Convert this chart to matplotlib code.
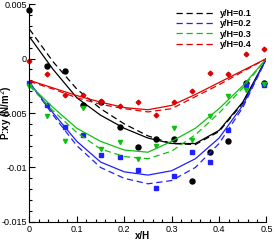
import numpy as np
import matplotlib.pyplot as plt

# measured points (x/H) shared by all four stations
x_pts = [0.0, 0.038, 0.076, 0.114, 0.152, 0.19, 0.228, 0.266, 0.304, 0.342, 0.38, 0.418, 0.456, 0.494]
pts_01 = [0.0045, -0.0007, -0.0011, -0.0043, -0.0040, -0.0063, -0.0081, -0.0074, -0.0074, -0.0112, -0.0086, -0.0076, -0.0022, -0.0022]
pts_02 = [-0.0022, -0.0043, -0.0063, -0.0070, -0.0089, -0.0090, -0.0102, -0.0119, -0.0108, -0.0086, -0.0095, -0.0066, -0.0024, -0.0024]
pts_03 = [-0.0025, -0.0053, -0.0076, -0.0045, -0.0083, -0.0077, -0.0092, -0.0080, -0.0064, -0.0075, -0.0053, -0.0034, -0.0029, -0.0023]
pts_04 = [-0.0002, -0.0014, -0.0033, -0.0033, -0.0039, -0.0044, -0.0040, -0.0052, -0.0040, -0.0030, -0.0013, -0.0014, 0.0004, 0.0009]

# fitted curves
x_fit = [0.0, 0.05, 0.1, 0.15, 0.2, 0.25, 0.3, 0.35, 0.4, 0.45, 0.5]
solid_01 = [0.0020, -0.0010, -0.0036, -0.0052, -0.0064, -0.0073, -0.0078, -0.0078, -0.0066, -0.0040, 0.0]
dash_01 = [0.0027, -0.0003, -0.0028, -0.0046, -0.0060, -0.0071, -0.0078, -0.0079, -0.0067, -0.0041, 0.0]
solid_02 = [-0.0022, -0.0050, -0.0076, -0.0095, -0.0104, -0.0107, -0.0103, -0.0092, -0.0073, -0.0043, 0.0]
dash_02 = [-0.0022, -0.0052, -0.0080, -0.0100, -0.0110, -0.0115, -0.0112, -0.0100, -0.0078, -0.0045, 0.0]
solid_03 = [-0.0024, -0.0045, -0.0064, -0.0076, -0.0084, -0.0086, -0.0076, -0.0064, -0.0046, -0.0025, 0.0]
dash_03 = [-0.0025, -0.0048, -0.0068, -0.0083, -0.0090, -0.0092, -0.0085, -0.0070, -0.0050, -0.0027, 0.0]
solid_04 = [-0.0020, -0.0027, -0.0034, -0.0040, -0.0045, -0.0047, -0.0043, -0.0033, -0.0022, -0.0011, 0.0]
dash_04 = [-0.0021, -0.0028, -0.0036, -0.0042, -0.0046, -0.0049, -0.0046, -0.0035, -0.0024, -0.0012, 0.0]

labels = ['y/H=0.1', 'y/H=0.2', 'y/H=0.3', 'y/H=0.4']
colors = ['black', '#2020ff', '#10c010', '#e00000']
markers = ['o', 's', 'v', 'D']
msizes = [3.6, 2.6, 3.0, 2.4]

plt.rcParams['font.family'] = ['Liberation Sans', 'DejaVu Sans']
fig = plt.figure(figsize=(2.75, 2.42), dpi=100)
ax = fig.add_axes([0.107, 0.083, 0.862, 0.9])

series = [(pts_01, solid_01, dash_01), (pts_02, solid_02, dash_02),
          (pts_03, solid_03, dash_03), (pts_04, solid_04, dash_04)]
for (pts, sol, das), lab, c, m, ms in zip(series, labels, colors, markers, msizes):
    ax.plot(x_fit, sol, color=c, lw=0.9)
    ax.plot(x_fit, das, color=c, lw=0.9, dashes=(5, 3), label=lab)
    ax.plot(x_pts, pts, ls='none', marker=m, color=c, ms=ms, mec=c, clip_on=False)

ax.set_xlim(0, 0.5)
ax.set_ylim(-0.015, 0.005)
ax.set_xticks([0, 0.1, 0.2, 0.3, 0.4, 0.5])
ax.set_xticklabels(['0', '0.1', '0.2', '0.3', '0.4', '0.5'])
ax.set_yticks([-0.015, -0.01, -0.005, 0, 0.005])
ax.set_yticklabels(['-0.015', '-0.01', '-0.005', '0', '0.005'])
ax.set_xticks(np.arange(0, 0.5001, 0.02), minor=True)
ax.set_yticks(np.arange(-0.015, 0.00501, 0.001), minor=True)
ax.tick_params(which='both', direction='in', labelsize=6.5, width=0.8)
ax.tick_params(which='major', length=4, pad=2)
ax.tick_params(which='minor', length=2)
ax.spines['top'].set_visible(False)
ax.spines['right'].set_visible(False)
ax.set_xlabel('x/H', fontsize=7, fontweight='bold')
ax.xaxis.set_label_coords(0.479, -0.04)
ax.set_ylabel('P:xy (N/m$^2$)', fontsize=7, fontweight='bold')
ax.yaxis.set_label_coords(-0.066, 0.5)

ax.legend(loc='upper left', bbox_to_anchor=(0.618, 0.978), frameon=False,
          prop={'size': 6.5, 'weight': 'bold'}, handlelength=4.3,
          labelspacing=0.15, handletextpad=0.55, borderaxespad=0, borderpad=0)

fig.savefig('out.png', dpi=100)
